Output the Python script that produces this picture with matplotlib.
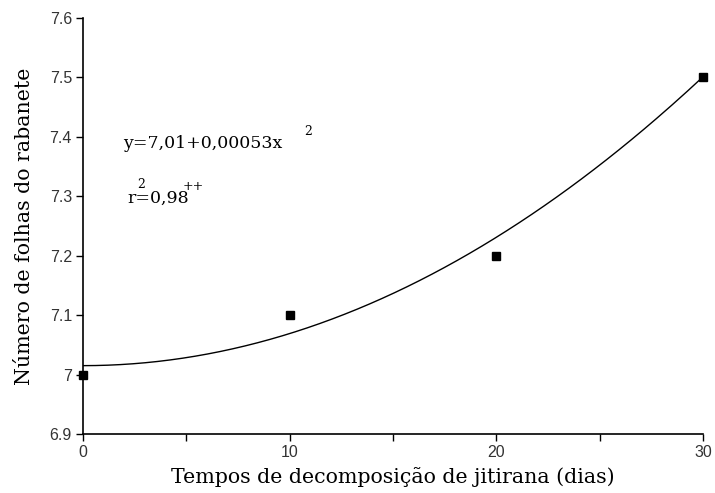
import numpy as np
import matplotlib
matplotlib.use('Agg')
import matplotlib.pyplot as plt

# observed data
dias = [0, 10, 20, 30]
folhas = [7.0, 7.1, 7.2, 7.5]

# fitted curve y = a + b*x^2 (as drawn in the figure)
coef_a = 7.015
coef_b = 0.00054

x_ticks = [0, 10, 20, 30]
y_ticks = [6.9, 7.0, 7.1, 7.2, 7.3, 7.4, 7.5, 7.6]
y_tick_labels = ['6.9', '7', '7.1', '7.2', '7.3', '7.4', '7.5', '7.6']

fig = plt.figure(figsize=(7.15, 4.93), dpi=100)
ax = fig.add_axes([0.1161, 0.1197, 0.8671, 0.8438])

xs = np.linspace(0, 30, 200)
ax.plot(xs, coef_a + coef_b * xs ** 2, color='black', lw=1.0)
ax.plot(dias, folhas, 's', color='black', ms=5.5, clip_on=False, zorder=5)

ax.set_xlim(0, 30)
ax.set_ylim(6.9, 7.6)
ax.set_xticks(x_ticks)
ax.set_xticks([5, 15, 25], minor=True)
ax.set_yticks(y_ticks)
ax.set_yticklabels(y_tick_labels)
ax.tick_params(direction='out', length=5, width=1, labelsize=11.5, colors='black', pad=3)
ax.tick_params(which='minor', direction='out', length=5, width=1)
for lbl in ax.get_xticklabels() + ax.get_yticklabels():
    lbl.set_fontfamily('Liberation Sans')
    lbl.set_color('#333333')

for s in ['top', 'right']:
    ax.spines[s].set_visible(False)
for s in ['left', 'bottom']:
    ax.spines[s].set_linewidth(1.2)

ax.set_xlabel('Tempos de decomposição de jitirana (dias)', family='DejaVu Serif', fontsize=14.8, labelpad=5)
ax.set_ylabel('Número de folhas do rabanete', family='DejaVu Serif', fontsize=14.8, labelpad=11)

ann = dict(family='DejaVu Serif', fontsize=12.5, color='black', va='baseline')
sup = dict(family='DejaVu Serif', fontsize=9, color='black', va='baseline')
ax.text(0.0645, 0.6875, 'y=7,01+0,00053x', transform=ax.transAxes, **ann)
ax.text(0.357, 0.719, '2', transform=ax.transAxes, **sup)
ax.text(0.071, 0.555, 'r=0,98', transform=ax.transAxes, **ann)
ax.text(0.087, 0.591, '2', transform=ax.transAxes, **sup)
ax.text(0.161, 0.587, '++', transform=ax.transAxes, **sup)

fig.savefig('out.png', dpi=100)
